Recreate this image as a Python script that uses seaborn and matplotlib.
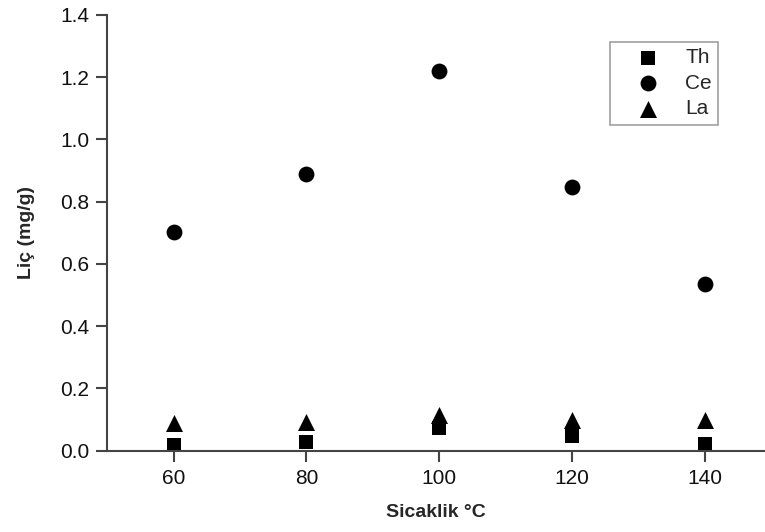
import matplotlib
matplotlib.use("Agg")
import matplotlib.pyplot as plt
import pandas as pd
import seaborn as sns

# Data
temps = [60, 80, 100, 120, 140]
th = [0.018, 0.027, 0.073, 0.047, 0.020]
ce = [0.704, 0.889, 1.219, 0.848, 0.536]
la = [0.088, 0.093, 0.115, 0.099, 0.097]
elements = ["Th", "Ce", "La"]

df = pd.DataFrame({
    "temp": temps * 3,
    "value": th + ce + la,
    "element": ["Th"] * 5 + ["Ce"] * 5 + ["La"] * 5,
})

sns.set_style("white")
plt.rcParams["font.family"] = ["Liberation Sans", "DejaVu Sans"]

fig = plt.figure(figsize=(7.65, 5.32), dpi=100)
ax = fig.add_axes([0.14, 0.153, 0.86, 0.819])

markers = {"Th": "s", "Ce": "o", "La": "^"}
sizes = {"Th": 90, "Ce": 130, "La": 150}
for el in elements:
    sub = df[df["element"] == el]
    sns.scatterplot(data=sub, x="temp", y="value", marker=markers[el], s=sizes[el],
                    color="black", edgecolor="black", linewidth=0, label=el, ax=ax)

ax.set_xlim(50, 149)
ax.set_ylim(0, 1.4)
ax.set_xticks([60, 80, 100, 120, 140])
ax.set_yticks([0.0, 0.2, 0.4, 0.6, 0.8, 1.0, 1.2, 1.4])
ax.set_yticklabels([f"{v:.1f}" for v in ax.get_yticks()])

for side in ["top", "right"]:
    ax.spines[side].set_visible(False)
for side in ["left", "bottom"]:
    ax.spines[side].set_color("#444444")
    ax.spines[side].set_linewidth(1.5)
ax.tick_params(direction="out", length=8, width=1.5, color="#444444",
               labelsize=15, left=True, bottom=True, pad=5, labelcolor="#111111")

ax.set_xlabel("Sicaklik °C", fontsize=14, fontweight="bold")
ax.set_ylabel("Liç (mg/g)", fontsize=14, fontweight="bold")
ax.xaxis.set_label_coords(0.5, -0.122)
ax.yaxis.set_label_coords(-0.11, 0.5)

leg = ax.legend(loc="upper right", bbox_to_anchor=(0.9286, 0.938), fontsize=15,
                frameon=True, fancybox=False, borderpad=0.3, handletextpad=0.3,
                labelspacing=0.32, handlelength=3.0, borderaxespad=0)
leg.get_frame().set_edgecolor("#888888")
leg.get_frame().set_linewidth(1.2)

fig.savefig("out.png", dpi=100)
